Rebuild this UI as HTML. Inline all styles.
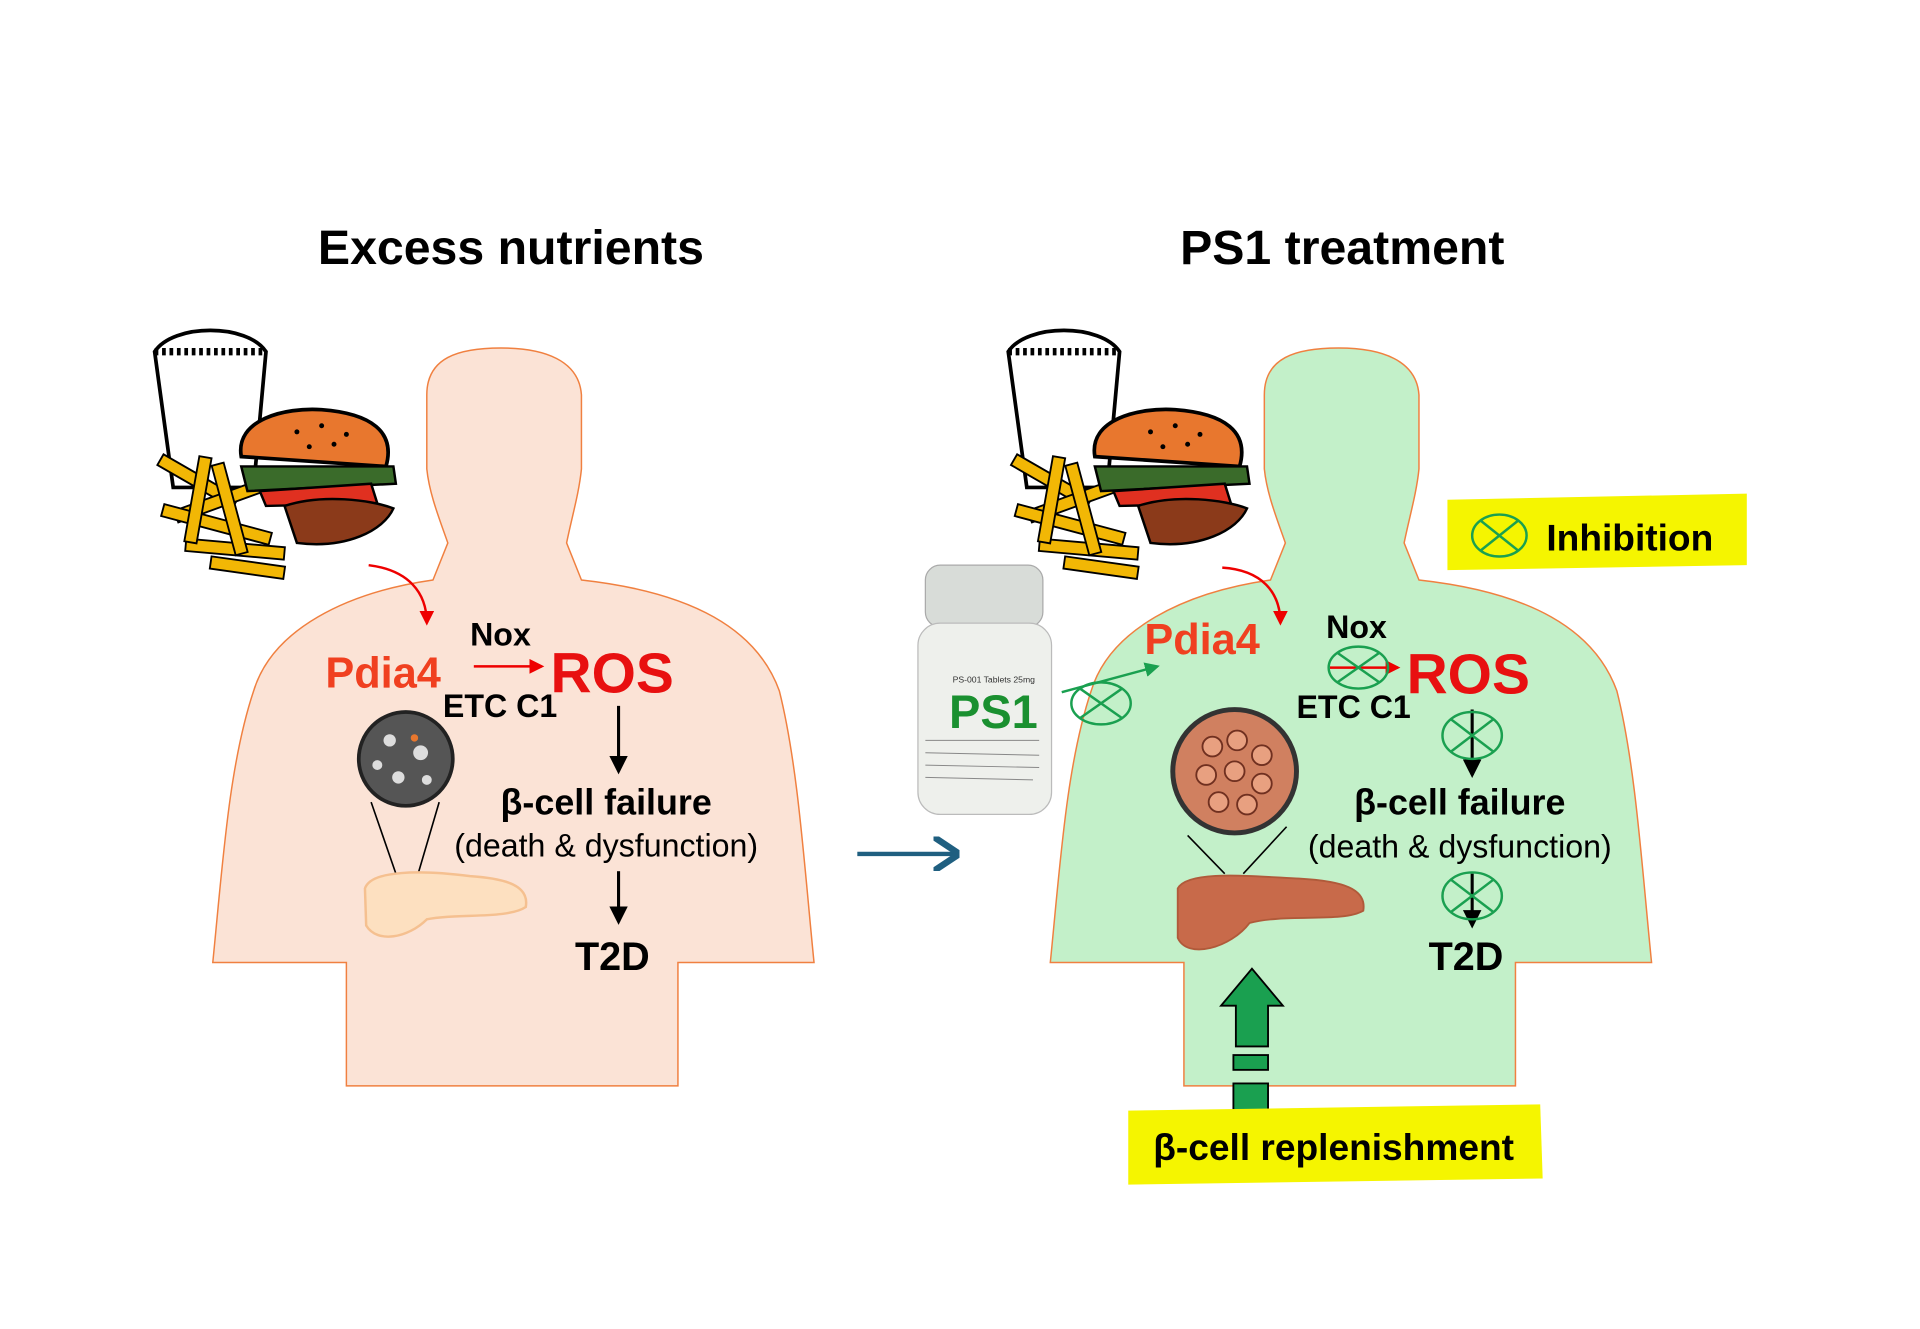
<!DOCTYPE html>
<html><head><meta charset="utf-8"><style>
html,body{margin:0;padding:0;background:#fff;}
svg{display:block;}
text{font-family:"Liberation Sans",Arial,sans-serif;font-weight:bold;}
</style></head><body>
<svg width="1920" height="1329" viewBox="0 0 1552 1077" preserveAspectRatio="none" xmlns="http://www.w3.org/2000/svg">
<defs>
<marker id="ab" markerWidth="6" markerHeight="6" refX="5" refY="3" orient="auto"><path d="M0,0 L6,3 L0,6 Z" fill="#000"/></marker>
<marker id="ar" markerWidth="6" markerHeight="6" refX="5" refY="3" orient="auto"><path d="M0,0 L6,3 L0,6 Z" fill="#e00"/></marker>
<marker id="ag" markerWidth="6" markerHeight="6" refX="5" refY="3" orient="auto"><path d="M0,0 L6,3 L0,6 Z" fill="#1aa050"/></marker>
<marker id="abl" markerWidth="6" markerHeight="8" refX="5" refY="4" orient="auto"><path d="M0,0 L6,4 L0,8" fill="none" stroke="#1f5f80" stroke-width="1.5"/></marker>
<path id="body" d="M345,320 C345,290 370,282 405,282 C440,282 468,292 470,320 L470,380 C468,400 462,420 458,440 L470,470 C560,480 612,510 630,560 C645,620 650,700 658,780 L548,780 L548,880 L280,880 L280,780 L172,780 C180,700 185,620 205,560 C220,510 280,480 350,470 L362,440 C355,420 347,400 345,380 Z"/>
<g id="food">
<path d="M125,285 C140,262 200,262 215,285 L205,395 L140,395 Z" fill="#fff" stroke="#000" stroke-width="3"/>
<path d="M125,285 L215,285" stroke="#000" stroke-width="6" stroke-dasharray="3 3"/>
<g stroke="#000" stroke-width="1.5" fill="#f2b705">
<rect x="125" y="385" width="70" height="10" transform="rotate(30 160 390)"/>
<rect x="140" y="400" width="80" height="10" transform="rotate(-20 180 405)"/>
<rect x="130" y="420" width="90" height="10" transform="rotate(15 175 425)"/>
<rect x="150" y="440" width="80" height="10" transform="rotate(5 190 445)"/>
<rect x="155" y="370" width="10" height="70" transform="rotate(10 160 405)"/>
<rect x="180" y="375" width="10" height="75" transform="rotate(-15 185 410)"/>
<rect x="170" y="455" width="60" height="10" transform="rotate(8 200 460)"/>
</g>
<path d="M195,370 C190,340 230,330 260,332 C300,335 320,350 312,378 Z" fill="#e8772e" stroke="#000" stroke-width="3"/>
<path d="M195,378 L318,378 L320,392 L200,398 Z" fill="#3a6b2a" stroke="#000" stroke-width="2"/>
<path d="M210,398 L300,392 L305,408 L215,410 Z" fill="#e03020" stroke="#000" stroke-width="2"/>
<path d="M230,410 C260,400 300,405 318,412 C310,430 280,445 240,440 Z" fill="#8b3a1a" stroke="#000" stroke-width="2"/>
<g fill="#000"><circle cx="240" cy="350" r="2"/><circle cx="260" cy="345" r="2"/><circle cx="280" cy="352" r="2"/><circle cx="250" cy="362" r="2"/><circle cx="270" cy="360" r="2"/></g>
</g>
</defs>

<text x="413" y="214" font-size="39" text-anchor="middle">Excess nutrients</text>
<text x="1085" y="214" font-size="39" text-anchor="middle">PS1 treatment</text>

<use href="#body" fill="#fbe3d6" stroke="#f08040" stroke-width="1.2"/>
<use href="#body" transform="translate(677,0)" fill="#c3f0c9" stroke="#f08040" stroke-width="1.2"/>

<use href="#food"/>
<use href="#food" transform="translate(690,0)"/>

<path d="M298,458 C330,462 345,480 345,505" fill="none" stroke="#e00" stroke-width="2" marker-end="url(#ar)"/>
<text x="263" y="557" font-size="35" fill="#f04020">Pdia4</text>
<text x="380" y="523" font-size="26">Nox</text>
<line x1="383" y1="540" x2="438" y2="540" stroke="#e00" stroke-width="2" marker-end="url(#ar)"/>
<text x="445" y="561" font-size="46" fill="#e81010">ROS</text>
<text x="358" y="581" font-size="26">ETC C1</text>
<line x1="500" y1="572" x2="500" y2="625" stroke="#000" stroke-width="2.5" marker-end="url(#ab)"/>
<text x="490" y="660" font-size="29" text-anchor="middle">β-cell failure</text>
<text x="490" y="694" font-size="26" text-anchor="middle" style="font-weight:normal">(death &amp; dysfunction)</text>
<line x1="500" y1="706" x2="500" y2="747" stroke="#000" stroke-width="2.5" marker-end="url(#ab)"/>
<text x="495" y="786" font-size="32" text-anchor="middle">T2D</text>
<circle cx="328" cy="615" r="38" fill="#555" stroke="#222" stroke-width="3"/>
<g fill="#ddd"><circle cx="315" cy="600" r="5"/><circle cx="340" cy="610" r="6"/><circle cx="322" cy="630" r="5"/><circle cx="345" cy="632" r="4"/><circle cx="305" cy="620" r="4"/></g>
<circle cx="335" cy="598" r="3" fill="#e8772e"/>
<line x1="300" y1="650" x2="320" y2="708" stroke="#000" stroke-width="1.3"/>
<line x1="355" y1="650" x2="338" y2="708" stroke="#000" stroke-width="1.3"/>
<path d="M295,720 C300,705 340,705 380,710 C410,712 428,718 425,735 C410,745 370,740 345,745 C330,760 305,765 296,750 Z" fill="#fde0c0" stroke="#f5c090" stroke-width="2"/>

<line x1="693" y1="692" x2="772" y2="692" stroke="#1f5f80" stroke-width="3.5" marker-end="url(#abl)"/>

<rect x="748" y="458" width="95" height="50" rx="12" fill="#d8dcd8" stroke="#aaa"/>
<rect x="742" y="505" width="108" height="155" rx="18" fill="#eef0ec" stroke="#bbb"/>
<text x="770" y="553" font-size="7" fill="#333" style="font-weight:normal">PS-001 Tablets 25mg</text>
<text x="803" y="590" font-size="38" fill="#1a9030" text-anchor="middle">PS1</text>
<g stroke="#888" stroke-width="0.8"><line x1="748" y1="600" x2="840" y2="600"/><line x1="748" y1="610" x2="840" y2="612"/><line x1="748" y1="620" x2="840" y2="622"/><line x1="748" y1="630" x2="835" y2="632"/></g>

<path d="M988,460 C1020,462 1035,480 1035,505" fill="none" stroke="#e00" stroke-width="2" marker-end="url(#ar)"/>
<text x="925" y="530" font-size="35" fill="#f04020">Pdia4</text>
<text x="1072" y="517" font-size="26">Nox</text>
<line x1="1075" y1="541" x2="1130" y2="541" stroke="#e00" stroke-width="2" marker-end="url(#ar)"/>
<text x="1137" y="562" font-size="46" fill="#e81010">ROS</text>
<text x="1048" y="582" font-size="26">ETC C1</text>
<line x1="1190" y1="575" x2="1190" y2="628" stroke="#000" stroke-width="2.5" marker-end="url(#ab)"/>
<text x="1180" y="660" font-size="29" text-anchor="middle">β-cell failure</text>
<text x="1180" y="695" font-size="26" text-anchor="middle" style="font-weight:normal">(death &amp; dysfunction)</text>
<line x1="1190" y1="708" x2="1190" y2="750" stroke="#000" stroke-width="2.5" marker-end="url(#ab)"/>
<text x="1185" y="786" font-size="32" text-anchor="middle">T2D</text>

<line x1="860" y1="548" x2="940" y2="552" stroke="#1aa050" stroke-width="2" marker-end="url(#ag)" transform="rotate(-18 900 560)"/>
<g fill="none" stroke="#1aa050" stroke-width="2">
<ellipse cx="890" cy="570" rx="24" ry="17"/><line x1="873" y1="558" x2="907" y2="582"/><line x1="907" y1="558" x2="873" y2="582"/>
<ellipse cx="1098" cy="541" rx="24" ry="17"/><line x1="1081" y1="529" x2="1115" y2="553"/><line x1="1115" y1="529" x2="1081" y2="553"/>
<ellipse cx="1190" cy="596" rx="24" ry="19"/><line x1="1173" y1="583" x2="1207" y2="609"/><line x1="1207" y1="583" x2="1173" y2="609"/>
<ellipse cx="1190" cy="726" rx="24" ry="19"/><line x1="1173" y1="713" x2="1207" y2="739"/><line x1="1207" y1="713" x2="1173" y2="739"/>
</g>

<circle cx="998" cy="625" r="50" fill="#d08060" stroke="#333" stroke-width="4"/>
<g fill="#e8a080" stroke="#703020" stroke-width="1.5"><circle cx="980" cy="605" r="8"/><circle cx="1000" cy="600" r="8"/><circle cx="1020" cy="612" r="8"/><circle cx="975" cy="628" r="8"/><circle cx="998" cy="625" r="8"/><circle cx="1020" cy="635" r="8"/><circle cx="985" cy="650" r="8"/><circle cx="1008" cy="652" r="8"/></g>
<line x1="960" y1="677" x2="990" y2="708" stroke="#000" stroke-width="1.3"/>
<line x1="1040" y1="670" x2="1005" y2="708" stroke="#000" stroke-width="1.3"/>
<path d="M952,720 C960,705 1010,710 1050,712 C1085,714 1105,720 1102,738 C1085,748 1040,740 1010,748 C995,768 960,778 952,760 Z" fill="#c86a4a" stroke="#b05a3a" stroke-width="1.5"/>

<path d="M1012,785 L1037,815 L1025,815 L1025,848 L999,848 L999,815 L987,815 Z" fill="#1aa050" stroke="#000" stroke-width="1.5"/>
<rect x="997" y="855" width="28" height="12" fill="#1aa050" stroke="#000" stroke-width="1.5"/>
<rect x="997" y="878" width="28" height="22" fill="#1aa050" stroke="#000" stroke-width="1.5"/>

<path d="M1170,405 L1412,400 L1412,458 L1170,462 Z" fill="#f5f500"/>
<ellipse cx="1212" cy="434" rx="22" ry="17" fill="none" stroke="#1aa050" stroke-width="2"/>
<line x1="1197" y1="422" x2="1227" y2="446" stroke="#1aa050" stroke-width="2"/><line x1="1227" y1="422" x2="1197" y2="446" stroke="#1aa050" stroke-width="2"/>
<text x="1250" y="446" font-size="30">Inhibition</text>
<path d="M912,900 L1245,895 L1247,955 L912,960 Z" fill="#f5f500"/>
<text x="1078" y="940" font-size="30" text-anchor="middle">β-cell replenishment</text>
</svg>
</body></html>
